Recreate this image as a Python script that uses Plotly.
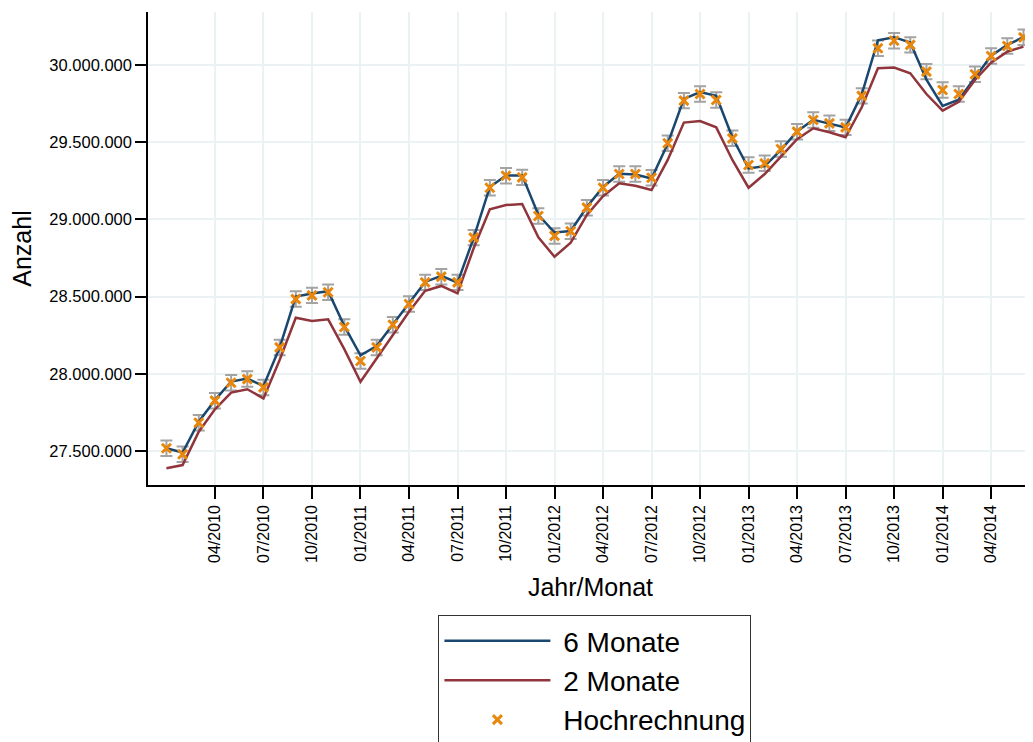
import plotly.graph_objects as go

# Monate 01/2010 .. 06/2014
monate = ["%02d/%d" % (m, j) for j in range(2010, 2015) for m in range(1, 13)][:54]

# Werte in Mio.
sechs_monate = [27.518, 27.490, 27.690, 27.830, 27.950, 27.970, 27.920, 28.170, 28.500, 28.520,
                28.535, 28.310, 28.120, 28.180, 28.320, 28.455, 28.595, 28.635, 28.590, 28.880,
                29.210, 29.285, 29.285, 29.030, 28.915, 28.925, 29.080, 29.210, 29.295, 29.290,
                29.265, 29.490, 29.780, 29.825, 29.800, 29.530, 29.330, 29.345, 29.450, 29.570,
                29.645, 29.620, 29.595, 29.810, 30.160, 30.180, 30.145, 29.905, 29.735, 29.775,
                29.920, 30.060, 30.130, 30.180]
zwei_monate = [27.388, 27.409, 27.625, 27.770, 27.878, 27.900, 27.841, 28.089, 28.363, 28.342,
               28.353, 28.160, 27.949, 28.100, 28.251, 28.402, 28.538, 28.569, 28.521, 28.813,
               29.065, 29.093, 29.100, 28.884, 28.758, 28.849, 29.029, 29.150, 29.234, 29.218,
               29.190, 29.385, 29.627, 29.637, 29.596, 29.385, 29.205, 29.294, 29.406, 29.519,
               29.590, 29.564, 29.532, 29.726, 29.979, 29.983, 29.946, 29.812, 29.704, 29.762,
               29.903, 30.015, 30.086, 30.119]
hochrechnung = [27.518, 27.479, 27.683, 27.826, 27.942, 27.966, 27.912, 28.171, 28.484, 28.508,
                28.528, 28.303, 28.083, 28.171, 28.318, 28.452, 28.592, 28.629, 28.592, 28.882,
                29.205, 29.283, 29.272, 29.022, 28.893, 28.923, 29.076, 29.205, 29.294, 29.294,
                29.270, 29.493, 29.769, 29.812, 29.773, 29.525, 29.352, 29.363, 29.456, 29.568,
                29.644, 29.622, 29.596, 29.800, 30.108, 30.157, 30.130, 29.957, 29.838, 29.812,
                29.940, 30.058, 30.123, 30.179]
fehler = 50000  # halbe Breite Konfidenzintervall

x = list(range(len(monate)))
mio = lambda l: [v * 1e6 for v in l]
tick_idx = [i for i, m in enumerate(monate) if m[:2] in ("01", "04", "07", "10") and i > 0]

FONT = "Liberation Sans, Arial, sans-serif"
GRID = "#EAF2F3"

fig = go.Figure()
# Konfidenzintervall
fig.add_trace(go.Scatter(x=x, y=mio(hochrechnung), mode="markers", showlegend=False,
                         marker=dict(size=1, color="rgba(0,0,0,0)"), hoverinfo="skip",
                         error_y=dict(type="constant", value=fehler, color="#A3A3A3",
                                      thickness=2, width=6)))
fig.add_trace(go.Scatter(x=x, y=mio(sechs_monate), mode="lines", name=" 6 Monate",
                         legendgroup="a", line=dict(color="#1A476F", width=2.5)))
fig.add_trace(go.Scatter(x=x, y=mio(zwei_monate), mode="lines", name=" 2 Monate",
                         legendgroup="b", line=dict(color="#90353B", width=2.5)))
fig.add_trace(go.Scatter(x=x, y=mio(hochrechnung), mode="markers", name=" Hochrechnung",
                         legendgroup="c",
                         marker=dict(symbol="x-thin", size=9, color="#E8870B",
                                     line=dict(color="#E8870B", width=3))))

# Seite hat 8px Rand -> Abbildung etwas kleiner
fig.update_layout(
    width=1025, height=734,
    margin=dict(l=140, r=0, t=4, b=257, autoexpand=False),
    plot_bgcolor="white", paper_bgcolor="white",
    separators=",.",
    font=dict(family=FONT, color="black", size=16),
    showlegend=True,
    legend=dict(x=0.505, xanchor="center", y=-0.275, yanchor="top",
                bordercolor="#333", borderwidth=1, bgcolor="white",
                font=dict(size=28), itemwidth=106, tracegroupgap=0,
                traceorder="grouped"),
)
fig.update_xaxes(range=[-1.14, 53.59], tickvals=tick_idx, ticktext=[monate[i] for i in tick_idx],
                 tickangle=-90, ticks="outside", ticklen=12, tickcolor="black", tickwidth=1.5,
                 showline=True, linecolor="black", linewidth=1.5,
                 showgrid=True, gridcolor=GRID, gridwidth=2, zeroline=False,
                 tickfont=dict(size=16),
                 title=dict(text="Jahr/Monat", font=dict(size=25), standoff=17))
fig.update_yaxes(range=[27280000, 30343000], dtick=500000, tick0=27500000, tickformat=",d",
                 ticks="outside", ticklen=11, tickcolor="black", tickwidth=1.5,
                 showline=True, linecolor="black", linewidth=1.5,
                 showgrid=True, gridcolor=GRID, gridwidth=2, zeroline=False,
                 tickfont=dict(size=16.5),
                 title=dict(text="Anzahl", font=dict(size=25), standoff=14))

fig.write_html("out.html")
